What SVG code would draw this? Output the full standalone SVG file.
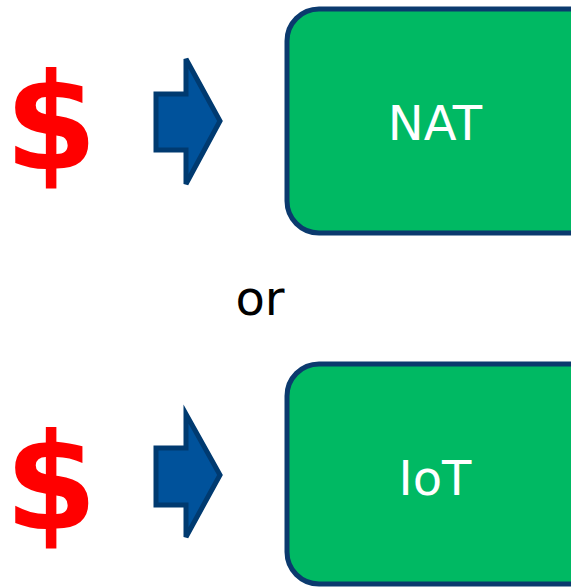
<svg xmlns="http://www.w3.org/2000/svg" width="571" height="588" viewBox="0 0 571 588">
<style>
.box{fill:#00B963;stroke:#0B3A6E;stroke-width:5}
.arrow{fill:#00529B;stroke:#003A70;stroke-width:5;stroke-linejoin:miter}
.lbl{font-family:"DejaVu Sans",Verdana,sans-serif;font-size:48px;fill:#FFFFFF;text-anchor:middle}
.dollar{font-family:"DejaVu Sans","Liberation Sans",sans-serif;font-weight:bold;font-size:133px;fill:#FF0000;text-anchor:middle}
.or{font-family:"DejaVu Sans","Liberation Sans",sans-serif;font-size:48px;fill:#000000;text-anchor:middle}
</style>
<g id="dollar1"><text class="dollar" x="51" y="169">$</text></g>
<g id="dollar2"><text class="dollar" x="51" y="529">$</text></g>
<g id="connectors">
<polygon class="arrow" points="156,94 186,94 186,59 220,121 186,184 186,150 156,150"/>
<polygon class="arrow" points="156,448 186,448 186,414 220,475 186,537 186,505 156,505"/>
</g>
<g id="nat">
<rect class="box" x="287" y="9" width="320" height="224" rx="32"/>
<text class="lbl" x="435" y="140">NAT</text>
</g>
<g id="or"><text class="or" x="260" y="315">or</text></g>
<g id="iot">
<rect class="box" x="287" y="364" width="320" height="220" rx="32"/>
<text class="lbl" x="435" y="495">IoT</text>
</g>
</svg>
